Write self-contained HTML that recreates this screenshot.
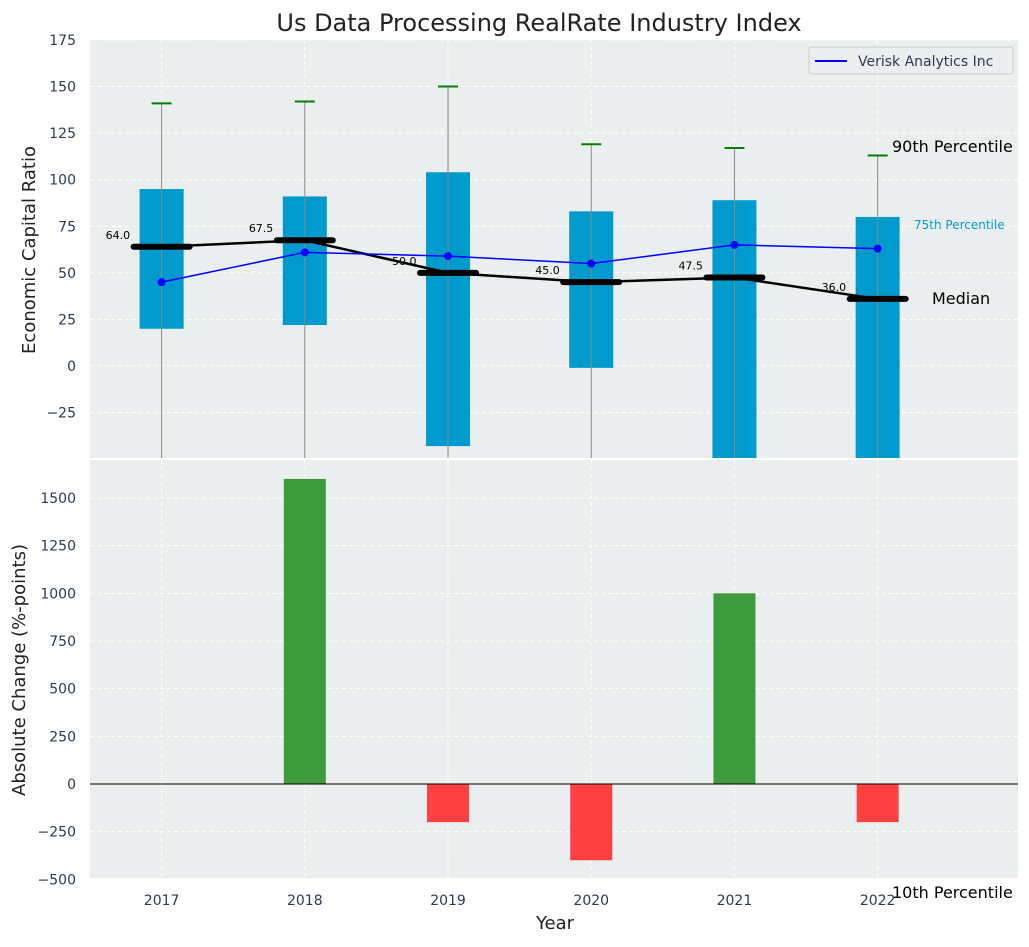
<!DOCTYPE html>
<html><head><meta charset="utf-8"><style>
body{margin:0;background:#fff;font-family:"Liberation Sans","DejaVu Sans",sans-serif}
svg text{font-family:"DejaVu Sans","Liberation Sans",sans-serif}
</style></head><body>
<svg id="c" width="1029" height="942"></svg>
<script>
const years=[2017,2018,2019,2020,2021,2022];
const boxLow=[20,22,-43,-1,-60,-60];
const boxHigh=[95,91,104,83,89,80];
const p90=[141,142,150,119,117,113];
const p10=[-80,-80,-80,-80,-80,-80];
const medians=[64,67.5,50,45,47.5,36];
const verisk=[45,61,59,55,65,63];
const changes=[0,1600,-200,-400,1000,-200];
const topTicks=[-25,0,25,50,75,100,125,150,175];
const botTicks=[-500,-250,0,250,500,750,1000,1250,1500];

const NS="http://www.w3.org/2000/svg",svg=document.getElementById('c');
function el(t,a,txt,name,p){const e=document.createElementNS(NS,t);for(const k in a)e.setAttribute(k,a[k]);if(txt!=null)e.textContent=txt;


(p||svg).appendChild(e);return e;}
const L=90,R=1018;
const x=v=>L+(v-2016.5)*(R-L)/6.48;
const T0=40,T1=458,yt=v=>366-v*1.863;
const B0=460,B1=878,yb=v=>784-v*0.19067;
const tc='#2e3a50';
el('text',{x:539,y:31,'font-size':24,'text-anchor':'middle',fill:'#222'},'Us Data Processing RealRate Industry Index','chart-title');
el('rect',{x:L,y:T0,width:R-L,height:T1-T0,fill:'#eaeeee'},null,'top-plot-area');
el('rect',{x:L,y:B0,width:R-L,height:B1-B0,fill:'#eaeeee'},null,'bottom-plot-area');
const dash={stroke:'#fff','stroke-dasharray':'4,3','stroke-width':1};
years.forEach(yr=>{el('line',Object.assign({x1:x(yr),x2:x(yr),y1:T0,y2:T1},dash),null,'top-grid-x');el('line',Object.assign({x1:x(yr),x2:x(yr),y1:B0,y2:B1},dash),null,'bottom-grid-x');
el('text',{x:x(yr),y:905,'font-size':14,'text-anchor':'middle',fill:tc},yr,'x-tick-label');});
topTicks.forEach(t=>{el('line',Object.assign({x1:L,x2:R,y1:yt(t),y2:yt(t)},dash),null,'top-grid-y');
el('text',{x:L-14,y:yt(t)+5,'font-size':14,'text-anchor':'end',fill:tc},t<0?'\u2212'+(-t):t,'top-y-tick-label');});
botTicks.forEach(t=>{el('line',Object.assign({x1:L,x2:R,y1:yb(t),y2:yb(t)},dash),null,'bottom-grid-y');
el('text',{x:L-14,y:yb(t)+5,'font-size':14,'text-anchor':'end',fill:tc},t<0?'\u2212'+(-t):t,'bottom-y-tick-label');});
const gt=el('g',{},null,'top-marks');
const clip=el('clipPath',{id:'ct'},null,'clip');el('rect',{x:L,y:T0,width:R-L,height:T1-T0},null,'clip-rect',clip);
gt.setAttribute('clip-path','url(#ct)');
years.forEach((yr,i)=>{const cx=x(yr);
el('rect',{x:cx-22,y:yt(boxHigh[i]),width:44,height:yt(boxLow[i])-yt(boxHigh[i]),fill:'#009bcc'},null,'iqr-box',gt);
el('line',{x1:cx,x2:cx,y1:yt(p90[i]),y2:yt(p10[i]),stroke:'#888','stroke-width':1},null,'whisker',gt);
el('line',{x1:cx-10,x2:cx+10,y1:yt(p90[i]),y2:yt(p90[i]),stroke:'green','stroke-width':2},null,'p90-cap',gt);
el('line',{x1:cx-28,x2:cx+28,y1:yt(medians[i]),y2:yt(medians[i]),stroke:'#000','stroke-width':6,'stroke-linecap':'round'},null,'median-marker',gt);
el('text',{x:cx-56,y:yt(medians[i])-8,'font-size':11,fill:'#000'},medians[i].toFixed(1),'median-label',gt);});
el('polyline',{points:years.map((y,i)=>x(y)+','+yt(medians[i])).join(' '),fill:'none',stroke:'#000','stroke-width':2.5},null,'median-line',gt);
el('polyline',{points:years.map((y,i)=>x(y)+','+yt(verisk[i])).join(' '),fill:'none',stroke:'blue','stroke-width':1.5},null,'verisk-line',gt);
years.forEach((y,i)=>el('circle',{cx:x(y),cy:yt(verisk[i]),r:4,fill:'blue'},null,'verisk-point',gt));
el('text',{x:892,y:152,'font-size':16},'90th Percentile','p90-label');
el('text',{x:914,y:229,'font-size':12,fill:'#009bcc'},'75th Percentile','p75-label');
el('text',{x:932,y:304,'font-size':16},'Median','median-annotation');
el('text',{x:892,y:898,'font-size':16},'10th Percentile','p10-label');
el('rect',{x:809,y:47,width:204,height:27,fill:'#eaeeee',stroke:'#ccc',rx:3},null,'legend');
el('line',{x1:815,x2:847,y1:61,y2:61,stroke:'blue','stroke-width':2},null,'legend-swatch');
el('text',{x:858,y:66,'font-size':14,fill:tc},'Verisk Analytics Inc','legend-label');
years.forEach((yr,i)=>{if(changes[i]===0)return;el('rect',{x:x(yr)-21,y:yb(Math.max(0,changes[i])),width:42,height:Math.abs(yb(changes[i])-yb(0)),fill:changes[i]>0?'#3d9a3d':'#ff4040'},null,'change-bar');});
el('line',{x1:L,x2:R,y1:yb(0),y2:yb(0),stroke:'#000','stroke-width':1},null,'zero-line');
el('text',{x:0,y:0,'font-size':18,'text-anchor':'middle',fill:'#222',transform:'translate(35,250) rotate(-90)'},'Economic Capital Ratio','top-y-axis-title');
el('text',{x:0,y:0,'font-size':18,'text-anchor':'middle',fill:'#222',transform:'translate(25,670) rotate(-90)'},'Absolute Change (%-points)','bottom-y-axis-title');
el('text',{x:555,y:929,'font-size':18,'text-anchor':'middle',fill:'#222'},'Year','x-axis-title');
</script></body></html>
